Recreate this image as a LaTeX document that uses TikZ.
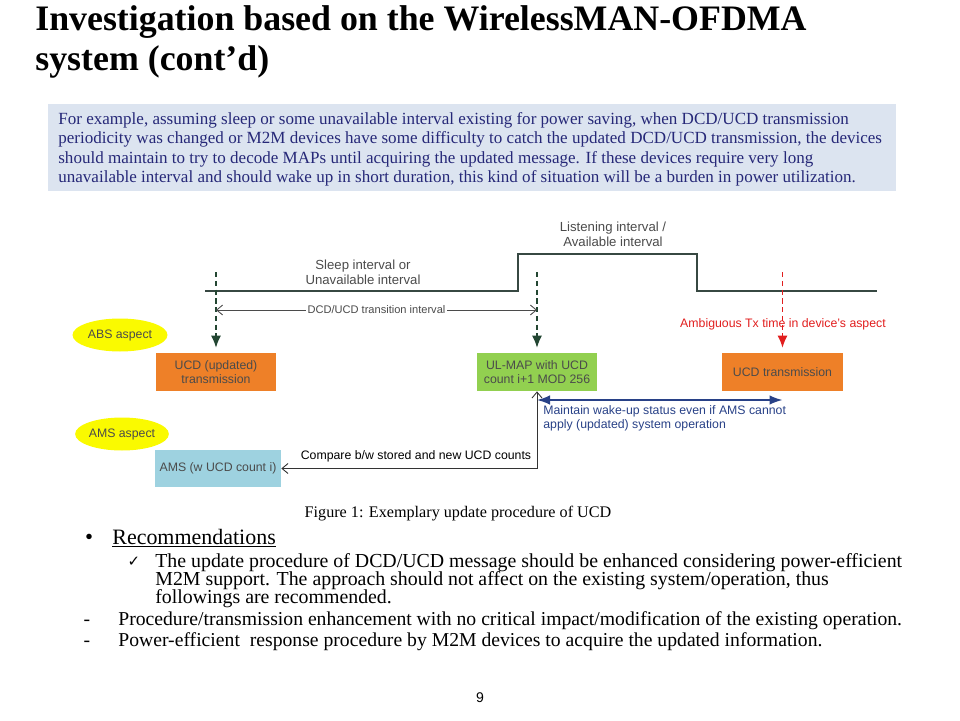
\documentclass[tikz,border=0pt]{standalone}
\usepackage{fontspec}
\setmainfont{Liberation Serif}
\setsansfont{Liberation Sans}
\newfontfamily\symfont{DejaVu Sans}
\usepackage{xcolor}
\usetikzlibrary{arrows.meta, shapes.geometric}
\definecolor{introbg}{RGB}{220,228,240}
\definecolor{introtxt}{RGB}{38,40,120}
\definecolor{linegray}{RGB}{55,72,66}
\definecolor{diaggray}{RGB}{75,75,75}
\definecolor{markgreen}{RGB}{35,70,50}
\definecolor{boxorange}{RGB}{238,128,40}
\definecolor{boxgreen}{RGB}{146,208,80}
\definecolor{boxblue}{RGB}{158,210,224}
\definecolor{aspectyellow}{RGB}{250,250,0}
\definecolor{ambred}{RGB}{225,30,30}
\definecolor{wakenavy}{RGB}{40,65,135}
\def\diagfont{\sffamily\fontsize{7}{8}\selectfont}
\def\bodyfont{\fontsize{11.2}{11.2}\selectfont}

\begin{document}
\begin{tikzpicture}[
    x=0.02cm, y=-0.02cm,
    every node/.style={inner sep=0pt},
    diag/.style={font=\diagfont, text=diaggray, align=center},
    msgbox/.style={diag, minimum width=2.4cm, minimum height=0.76cm},
    aspect/.style={ellipse, fill=aspectyellow, minimum width=1.9cm, minimum height=0.66cm, diag},
    timeline/.style={line width=0.9pt, draw=linegray},
    marker/.style={densely dashed, line width=0.7pt, shorten >=0.1cm,
        -{Latex[length=2.4mm,width=2mm]}},
    thin arrow/.style={line width=0.5pt, {Straight Barb[length=1.2mm,width=2mm]}-{Straight Barb[length=1.2mm,width=2mm]}},
    bodyline/.style={anchor=base west, font=\bodyfont}
]
\useasboundingbox (0,0) rectangle (960,720);

% title and introduction
\node[anchor=base west, font=\bfseries\fontsize{20.4}{20.4}\selectfont] (title1) at (35,31) {Investigation based on the WirelessMAN-OFDMA};
\node[anchor=base west, font=\bfseries\fontsize{20.4}{20.4}\selectfont] (title2) at (35,70) {system (cont'd)};
\node[fill=introbg, minimum width=16.96cm, minimum height=1.74cm, anchor=north west] (introbox) at (48,104) {};
\node[anchor=north west, align=left, text=introtxt, font=\fontsize{9.7}{11.05}\selectfont] (introtext) at (58,112)
  {For example, assuming sleep or some unavailable interval existing for power saving, when DCD/UCD transmission\\
   periodicity was changed or M2M devices have some difficulty to catch the updated DCD/UCD transmission, the devices\\
   should maintain to try to decode MAPs until acquiring the updated message. If these devices require very long\\
   unavailable interval and should wake up in short duration, this kind of situation will be a burden in power utilization.};

% timing line
\draw[timeline] (205,291) -- (518,291) -- (518,254) -- (697,254) -- (697,291) -- (877,291);
\node[diag, font=\sffamily\fontsize{7.5}{8.5}\selectfont] (sleeplbl) at (363,272) {Sleep interval or\\Unavailable interval};
\node[diag, font=\sffamily\fontsize{7.5}{8.5}\selectfont] (listenlbl) at (613,234) {Listening interval /\\Available interval};

% aspects and messages
\node[aspect] (abs) at (120,335) {ABS aspect};
\node[aspect, minimum width=1.82cm] (ams) at (122,434) {AMS aspect};
\node[msgbox, fill=boxorange] (ucdupd) at (216,372) {UCD (updated)\\transmission};
\node[msgbox, fill=boxgreen] (ulmap) at (537,372) {UL-MAP with UCD\\count i+1 MOD 256};
\node[msgbox, fill=boxorange, minimum width=2.42cm] (ucdtx) at (782.5,372) {UCD transmission};
\node[msgbox, fill=boxblue, minimum width=2.52cm, minimum height=0.74cm] (amsbox) at (218,468.5) {AMS (w UCD count i)};

% markers
\coordinate (m1) at (216,272);
\coordinate (m2) at (537,272);
\coordinate (m3) at (782.5,272);
\draw[marker, markgreen] (m1) -- (ucdupd.north);
\draw[marker, markgreen] (m2) -- (ulmap.north);
\draw[marker, ambred] (m3) -- (ucdtx.north);
\node[diag, text=ambred] (amblbl) at (783,324) {Ambiguous Tx time in device's aspect};

% intervals
\coordinate (t1) at (216,310);
\coordinate (t2) at (537,310);
\draw[thin arrow, diaggray] (t1) -- node[diag, fill=white, inner sep=1pt, font=\sffamily\fontsize{6.3}{7}\selectfont] (translbl) {DCD/UCD transition interval} (t2);
\coordinate (w1) at (537,400);
\coordinate (w2) at (782.5,400);
\draw[wakenavy, line width=0.9pt, {Latex[length=2.6mm,width=1.9mm]}-{Latex[length=2.6mm,width=1.9mm]}] (w1) -- (w2);
\node[diag, text=wakenavy, align=left, anchor=north west] (wakelbl) at (543,405) {Maintain wake-up status even if AMS cannot\\apply (updated) system operation};
\draw[thin arrow, black!80] (amsbox.east) -- (ulmap.south |- amsbox.east) -- (ulmap.south);
\node[diag, text=black, anchor=base] (cmplbl) at (416,459) {Compare b/w stored and new UCD counts};

% caption and recommendations
\node[font=\fontsize{9.2}{9.2}\selectfont] (caption) at (458,514) {Figure 1: Exemplary update procedure of UCD};
\node[anchor=base, font=\fontsize{13}{13}\selectfont] (bullet) at (89,544) {\textbullet};
\node[anchor=base west, font=\fontsize{12.5}{12.5}\selectfont] (recom) at (112,544) {\underline{Recommendations}};
\node[anchor=base, font=\symfont\fontsize{8.5}{8.5}\selectfont] (check) at (134,566) {✓};
\node[bodyline, font=\fontsize{11.3}{11.3}\selectfont] (recom1) at (155,567) {The update procedure of DCD/UCD message should be enhanced considering power-efficient};
\node[bodyline, font=\fontsize{11.3}{11.3}\selectfont] (recom2) at (155,585) {M2M support. The approach should not affect on the existing system/operation, thus};
\node[bodyline, font=\fontsize{11.3}{11.3}\selectfont] (recom3) at (155,603) {followings are recommended.};
\node[anchor=base, font=\bodyfont] (dash1) at (87,625) {-};
\node[bodyline] (item1) at (118,625) {Procedure/transmission enhancement with no critical impact/modification of the existing operation.};
\node[anchor=base, font=\bodyfont] (dash2) at (87,646) {-};
\node[bodyline] (item2) at (118,646) {Power-efficient\ \ response procedure by M2M devices to acquire the updated information.};
\node[font=\sffamily\fontsize{8}{8}\selectfont] (pagenum) at (480,698) {9};
\end{tikzpicture}
\end{document}
